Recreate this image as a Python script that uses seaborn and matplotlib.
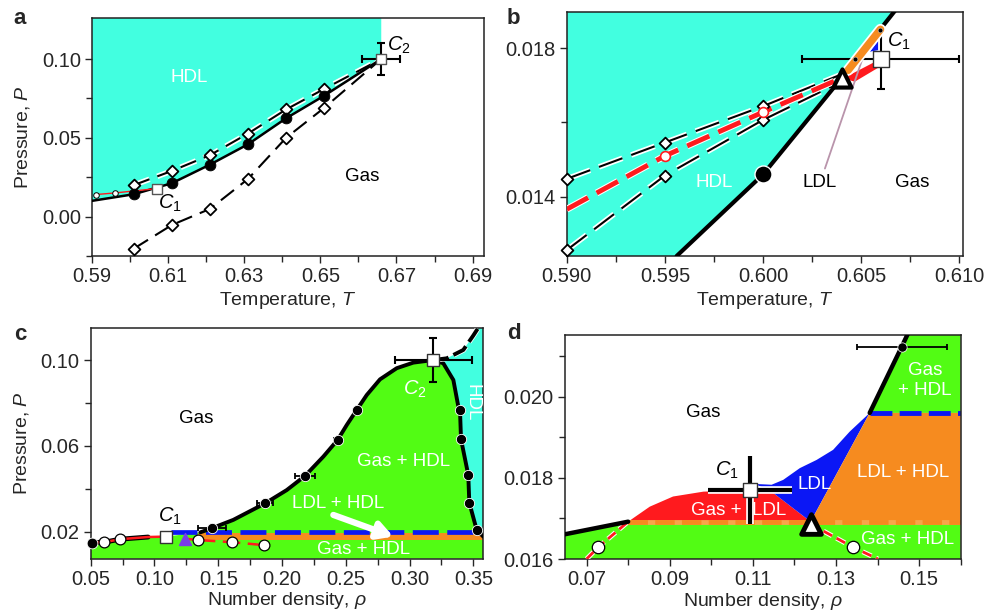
import matplotlib
matplotlib.use('Agg')
import matplotlib.pyplot as plt
import matplotlib.patheffects as pe
import seaborn as sns

sns.set_style('ticks')
plt.rcParams['font.family'] = ['Liberation Sans', 'DejaVu Sans']
plt.rcParams['mathtext.fontset'] = 'custom'
plt.rcParams['mathtext.rm'] = 'Liberation Sans'
plt.rcParams['mathtext.it'] = 'Liberation Sans:italic'
plt.rcParams['mathtext.bf'] = 'Liberation Sans:bold'
plt.rcParams['axes.linewidth'] = 1.1
plt.rcParams['axes.edgecolor'] = '#222222'

CYAN = '#42ffe0'
GREEN = '#52fc14'
RED = '#ff1a1e'
ORANGE = '#f68b1f'
ORANGE_LIGHT = '#f7a64a'
BLUE = '#0b17f5'
PURPLE = '#7a3de8'
FS = 13.5      # text inside the panels
TFS = 14.5     # tick labels
LFS = 14       # axis labels

# ---------------- panel a: P-T plane, full range ----------------
A_T_COEX = [0.590, 0.601, 0.611, 0.621, 0.631, 0.641, 0.651, 0.666]
A_P_COEX = [0.0100, 0.0142, 0.0212, 0.0330, 0.0459, 0.0624, 0.0767, 0.1000]
A_T_DIA = [0.601, 0.611, 0.621, 0.631, 0.641, 0.651, 0.666]
A_P_DIA_HI = [0.0200, 0.0290, 0.0390, 0.0527, 0.0680, 0.0810, 0.1000]
A_P_DIA_LO = [-0.0203, -0.0053, 0.0049, 0.0239, 0.0500, 0.0690, 0.1000]
A_T_LDL = [0.591, 0.596, 0.607]
A_P_LDL = [0.0140, 0.0150, 0.0178]
A_C2 = (0.666, 0.100)
A_C2_ERR = (0.005, 0.010)
A_XTICKS = [0.59, 0.61, 0.63, 0.65, 0.67, 0.69]
A_YTICKS = [0.00, 0.05, 0.10]

# ---------------- panel b: P-T plane, zoom near C1 ----------------
B_T_COEX = [0.5956, 0.600, 0.604, 0.6070]
B_P_COEX = [0.0124, 0.0146, 0.0172, 0.0192]
B_T_DIA = [0.590, 0.595, 0.600]
B_P_DIA_HI = [0.01448, 0.01546, 0.01644]
B_P_DIA_LO = [0.01256, 0.01457, 0.01607]
B_T_HI_END = 0.6040
B_P_HI_END = 0.0173
B_T_LO_END = 0.6036
B_P_LO_END = 0.0170
B_T_LDL = [0.590, 0.595, 0.600, 0.604]
B_P_LDL = [0.01366, 0.0151, 0.01628, 0.0172]
B_T_WEDGE = [0.60408, 0.60586, 0.60594, 0.60467]
B_P_WEDGE = [0.01719, 0.01768, 0.01750, 0.01710]
B_T_BLUE = [0.60544, 0.60586, 0.60586]
B_P_BLUE = [0.01791, 0.01820, 0.01795]
B_T_ORANGE = [0.60433, 0.60598]
B_P_ORANGE = [0.01741, 0.01851]
B_T_DOTS = [0.60467, 0.60594]
B_P_DOTS = [0.01770, 0.01849]
B_TRIPLE = (0.6040, 0.01719)
B_CIRCLE = (0.600, 0.0146)
B_C1 = (0.606, 0.0177)
B_C1_ERR = (0.004, 0.0008)
B_XTICKS = [0.590, 0.595, 0.600, 0.605, 0.610]
B_YTICKS = [0.014, 0.018]

# ---------------- panel c: P-rho plane ----------------
C_RHO_LEFT = [0.0508, 0.0607, 0.073, 0.095, 0.109]
C_P_LEFT = [0.0149, 0.0151, 0.0165, 0.0175, 0.0177]
C_RHO_OPEN = [0.0607, 0.073, 0.134, 0.161, 0.186]
C_P_OPEN = [0.0151, 0.0165, 0.0161, 0.0151, 0.0137]
C_RHO_VAP = [0.1242, 0.134, 0.161, 0.186]
C_P_VAP = [0.0167, 0.0161, 0.0151, 0.0137]
C_RHO_COEX = [0.136, 0.1449, 0.1618, 0.1867, 0.2037, 0.218, 0.2324, 0.2436,
              0.2507, 0.2585, 0.2664, 0.2768, 0.2899, 0.3029, 0.3186, 0.3264,
              0.3343, 0.3382, 0.3395, 0.3403, 0.3460, 0.3468, 0.3526, 0.3578]
C_P_COEX = [0.0197, 0.0216, 0.0255, 0.0332, 0.0394, 0.0460, 0.0550, 0.0628,
            0.0697, 0.0767, 0.0837, 0.0910, 0.0962, 0.0988, 0.1000, 0.0985,
            0.0907, 0.0783, 0.0767, 0.0631, 0.0464, 0.0335, 0.0208, 0.0177]
C_RHO_DOT = [0.1449, 0.1867, 0.218, 0.2436, 0.2585, 0.3395, 0.3403, 0.3460, 0.3468, 0.3526]
C_P_DOT = [0.0216, 0.0332, 0.0460, 0.0628, 0.0767, 0.0767, 0.0631, 0.0464, 0.0335, 0.0208]
C_RHO_DOT_ERR = [0.0108, 0.006, 0.008, 0.003, 0, 0, 0, 0, 0, 0]
C_RHO_HDL = [0.3186, 0.3291, 0.3421, 0.3500, 0.3560]
C_P_HDL = [0.1000, 0.1008, 0.1047, 0.1115, 0.1170]
C_P_BLUE = 0.0199
C_RHO_BLUE = [0.113, 0.352]
C_P_ORANGE = 0.0178
C_RHO_ORANGE = [0.136, 0.3578]
C_C1 = (0.109, 0.0177)
C_C2 = (0.3186, 0.100)
C_C2_ERR = (0.030, 0.0101)
C_TRIPLE = (0.1242, 0.0167)
C_ARROW = [(0.2402, 0.0278), (0.2872, 0.0177)]
C_XTICKS = [0.05, 0.10, 0.15, 0.20, 0.25, 0.30, 0.35]
C_YTICKS = [0.02, 0.06, 0.10]

# ---------------- panel d: P-rho plane, zoom near C1 ----------------
D_RHO_COEX_L = [0.0648, 0.080]
D_P_COEX_L = [0.01661, 0.01692]
D_RHO_COEX_R = [0.1381, 0.1458, 0.1475]
D_P_COEX_R = [0.0196, 0.02123, 0.0216]
D_RHO_GL = [0.080, 0.0852, 0.0908, 0.0981, 0.1093, 0.1145, 0.1239]
D_P_GL = [0.01692, 0.01729, 0.01754, 0.01766, 0.01770, 0.01766, 0.01692]
D_RHO_LDL = [0.1105, 0.1145, 0.1173, 0.1213, 0.1253, 0.1293, 0.1333, 0.1381]
D_P_LDL = [0.01785, 0.01783, 0.01795, 0.01824, 0.01844, 0.01869, 0.01914, 0.0196]
D_P_TRIPLE_LINE = 0.01692
D_P_UPPER_LINE = 0.0196
D_RHO_SP1 = [0.070, 0.0728, 0.080]
D_P_SP1 = [0.0160, 0.01629, 0.01692]
D_RHO_SP2 = [0.1239, 0.1341, 0.1401]
D_P_SP2 = [0.01686, 0.01629, 0.0160]
D_RHO_OPEN = [0.0728, 0.1341]
D_P_OPEN = [0.01629, 0.01629]
D_C1 = (0.1093, 0.0177)
D_C1_ERR = (0.010, 0.00083)
D_TRIPLE = (0.1239, 0.01686)
D_TOPDOT = (0.1458, 0.02123)
D_TOPDOT_ERR = 0.0108
D_XTICKS = [0.07, 0.09, 0.11, 0.13, 0.15]
D_YTICKS = [0.016, 0.018, 0.020]


def halo(w):
    return [pe.Stroke(linewidth=w, foreground='white'), pe.Normal()]


def line(ax, x, y, **kw):
    sns.lineplot(x=list(x), y=list(y), ax=ax, sort=False, estimator=None,
                 legend=False, **kw)


def pts(ax, x, y, **kw):
    sns.scatterplot(x=list(x), y=list(y), ax=ax, legend=False, **kw)


def style_axes(ax, xlim, ylim, xt, xminor, yt, yminor, xfmt, yfmt):
    ax.set_xlim(*xlim)
    ax.set_ylim(*ylim)
    ax.set_xticks(xt)
    ax.set_xticklabels([xfmt.format(v) for v in xt])
    ax.set_xticks(xminor, minor=True)
    ax.set_yticks(yt)
    ax.set_yticklabels([yfmt.format(v) for v in yt])
    ax.set_yticks(yminor, minor=True)
    ax.tick_params(which='both', direction='out', labelsize=TFS, width=1.0,
                   top=False, right=False, pad=3)
    ax.tick_params(which='major', length=5)
    ax.tick_params(which='minor', length=4)
    for s in ax.spines.values():
        s.set_visible(True)


fig = plt.figure(figsize=(9.87, 6.11), dpi=100)
ax_a = fig.add_axes([0.0932, 0.581, 0.3972, 0.3895])
ax_b = fig.add_axes([0.5742, 0.581, 0.4018, 0.400])
ax_c = fig.add_axes([0.0919, 0.0856, 0.3978, 0.3771])
ax_d = fig.add_axes([0.5724, 0.0851, 0.4010, 0.3666])

# ===== a =====
ax = ax_a
A_TOP = 0.126
ax.fill(A_T_COEX + [A_T_COEX[-1], A_T_COEX[0]], A_P_COEX + [A_TOP, A_TOP],
        color=CYAN, lw=0, zorder=0)
for pdia in (A_P_DIA_HI, A_P_DIA_LO):
    line(ax, A_T_DIA, pdia, color='k', lw=1.5, linestyle=(0, (8, 4)),
         path_effects=halo(4), zorder=2)
    pts(ax, A_T_DIA[:-1], pdia[:-1], marker='D', s=36, color='white',
        edgecolor='k', linewidth=1.3, zorder=4)
line(ax, A_T_COEX, A_P_COEX, color='k', lw=1.8, zorder=3)
pts(ax, A_T_COEX[1:-1], A_P_COEX[1:-1], marker='o', s=60, color='k',
    edgecolor='k', zorder=4)
line(ax, A_T_LDL, A_P_LDL, color=RED, lw=1.0, zorder=3)
pts(ax, A_T_LDL[:-1], A_P_LDL[:-1], marker='o', s=16, color='white',
    edgecolor='k', linewidth=0.7, zorder=4)
ax.errorbar(A_C2[0], A_C2[1], xerr=A_C2_ERR[0], yerr=A_C2_ERR[1], fmt='none',
            ecolor='k', elinewidth=1.5, capsize=3, capthick=1.5, zorder=5)
pts(ax, [A_T_LDL[-1], A_C2[0]], [A_P_LDL[-1], A_C2[1]], marker='s', s=60,
    color='white', edgecolor='#555555', linewidth=1.0, zorder=6)
ax.text(0.6155, 0.0884, 'HDL', color='white', fontsize=FS, ha='center', va='center')
ax.text(0.6611, 0.0254, 'Gas', color='k', fontsize=FS, ha='center', va='center')
ax.text(0.6105, 0.0085, '$C_1$', color='k', fontsize=FS + 1, ha='center', va='center')
ax.text(0.6705, 0.1087, '$C_2$', color='k', fontsize=FS + 1, ha='center', va='center')
style_axes(ax, (0.59, 0.693), (-0.025, A_TOP), A_XTICKS,
           [0.60, 0.62, 0.64, 0.66, 0.68], A_YTICKS, [-0.025, 0.025, 0.075],
           '{:.2f}', '{:.2f}')
ax.set_xlabel('Temperature, $T$', fontsize=LFS, labelpad=3)
ax.set_ylabel('Pressure, $P$', fontsize=LFS, labelpad=7)

# ===== b =====
ax = ax_b
B_TOP = 0.01899
B_BOT = 0.0124
ax.fill([0.590] + B_T_COEX + [0.590], [B_BOT] + B_P_COEX + [B_TOP],
        color=CYAN, lw=0, zorder=0)
ax.fill(B_T_WEDGE, B_P_WEDGE, color=RED, lw=0, zorder=3)
ax.fill(B_T_BLUE, B_P_BLUE, color=BLUE, lw=0, zorder=3)
line(ax, B_T_DIA + [B_T_HI_END], B_P_DIA_HI + [B_P_HI_END], color='k', lw=1.5,
     linestyle=(0, (12, 4.5)), path_effects=halo(4), zorder=2)
line(ax, B_T_DIA + [B_T_LO_END], B_P_DIA_LO + [B_P_LO_END], color='k', lw=1.5,
     linestyle=(0, (12, 4.5)), path_effects=halo(4), zorder=2)
line(ax, B_T_LDL, B_P_LDL, color=RED, lw=3.5, linestyle=(0, (5, 2)),
     path_effects=halo(5), zorder=3)
line(ax, B_T_COEX, B_P_COEX, color='k', lw=3.0, zorder=3)
for pdia in (B_P_DIA_HI, B_P_DIA_LO):
    pts(ax, B_T_DIA, pdia, marker='D', s=36, color='white', edgecolor='k',
        linewidth=1.3, zorder=4, clip_on=False)
pts(ax, B_T_LDL[1:3], B_P_LDL[1:3], marker='o', s=50, color='white',
    edgecolor=RED, linewidth=1.2, zorder=4)
pts(ax, [B_CIRCLE[0]], [B_CIRCLE[1]], marker='o', s=150, color='k', zorder=4)
ax.errorbar(B_C1[0], B_C1[1], xerr=B_C1_ERR[0], yerr=B_C1_ERR[1], fmt='none',
            ecolor='k', elinewidth=1.5, capsize=3, capthick=1.5, zorder=5)
line(ax, B_T_ORANGE, B_P_ORANGE, color=ORANGE, lw=5.5, solid_capstyle='round',
     path_effects=halo(8), zorder=6)
pts(ax, B_T_DOTS, B_P_DOTS, marker='o', s=12, color='k', zorder=7)
pts(ax, [B_TRIPLE[0]], [B_TRIPLE[1]], marker='^', s=170, color='white',
    edgecolor='k', linewidth=3, zorder=7)
pts(ax, [B_C1[0]], [B_C1[1]], marker='s', s=120, color='white',
    edgecolor='#333333', linewidth=1.0, zorder=8)
ax.text(0.5975, 0.01437, 'HDL', color='white', fontsize=FS, ha='center', va='center')
ax.text(0.6076, 0.01437, 'Gas', color='k', fontsize=FS, ha='center', va='center')
ax.annotate('LDL', xy=(0.60527, 0.01804), xytext=(0.6029, 0.01437),
            fontsize=FS, ha='center', va='center', color='k',
            arrowprops=dict(arrowstyle='-', color='#b994ab', lw=1.3,
                            shrinkA=2, shrinkB=0))
ax.text(0.6069, 0.01818, '$C_1$', color='k', fontsize=FS + 1, ha='center', va='center')
style_axes(ax, (0.590, 0.6102), (B_BOT, B_TOP), B_XTICKS,
           [0.5925, 0.5975, 0.6025, 0.6075], B_YTICKS, [0.016],
           '{:.3f}', '{:.3f}')
ax.set_xlabel('Temperature, $T$', fontsize=LFS, labelpad=3)

# ===== c =====
ax = ax_c
C_TOP = 0.1148
C_BOT = 0.0074
C_RIGHT = 0.3578
green_x = C_RHO_LEFT + C_RHO_COEX + [C_RIGHT, C_RHO_LEFT[0] - 0.001]
green_y = C_P_LEFT + C_P_COEX + [C_BOT, C_BOT]
ax.fill([C_RHO_LEFT[0] - 0.001] + green_x, [C_P_LEFT[0]] + green_y,
        color=GREEN, lw=0, zorder=0)
i2 = C_RHO_COEX.index(C_C2[0])
cyan_x = C_RHO_HDL + [C_RIGHT, C_RIGHT] + C_RHO_COEX[i2:][::-1]
cyan_y = C_P_HDL + [C_TOP, C_P_COEX[-1]] + C_P_COEX[i2:][::-1]
ax.fill(cyan_x, cyan_y, color=CYAN, lw=0, zorder=0)
line(ax, C_RHO_ORANGE, [C_P_ORANGE] * 2, color=ORANGE, lw=5, zorder=2)
line(ax, C_RHO_BLUE, [C_P_BLUE] * 2, color=BLUE, lw=3.4,
     linestyle=(0, (5.5, 1.8)), zorder=2)
line(ax, C_RHO_LEFT[:4], C_P_LEFT[:4], color='k', lw=3.5, zorder=3)
line(ax, C_RHO_LEFT, C_P_LEFT, color=RED, lw=1.8, zorder=3)
line(ax, C_RHO_VAP[:2], C_P_VAP[:2], color=RED, lw=1.8, zorder=3)
line(ax, C_RHO_VAP[1:], C_P_VAP[1:], color=RED, lw=1.8,
     linestyle=(0, (7, 3)), zorder=3)
line(ax, C_RHO_COEX, C_P_COEX, color='k', lw=2.8, zorder=3)
line(ax, C_RHO_HDL, C_P_HDL, color='k', lw=2.8, linestyle=(0, (4, 1.4)),
     path_effects=halo(4), zorder=3)
ax.errorbar(C_RHO_DOT, C_P_DOT, xerr=C_RHO_DOT_ERR, fmt='none', ecolor='k',
            elinewidth=1.3, capsize=2.5, capthick=1.3, zorder=4)
pts(ax, C_RHO_DOT, C_P_DOT, marker='o', s=55, color='k', zorder=4)
pts(ax, [C_RHO_LEFT[0]], [C_P_LEFT[0]], marker='o', s=60, color='k', zorder=4,
    clip_on=False)
pts(ax, C_RHO_OPEN, C_P_OPEN, marker='o', s=60, color='white', edgecolor='k',
    linewidth=0.9, zorder=5)
ax.errorbar(C_C2[0], C_C2[1], xerr=C_C2_ERR[0], yerr=C_C2_ERR[1], fmt='none',
            ecolor='k', elinewidth=1.5, capsize=3, capthick=1.5, zorder=5)
pts(ax, [C_C1[0], C_C2[0]], [C_C1[1], C_C2[1]], marker='s', s=65,
    color='white', edgecolor='#333333', linewidth=1.0, zorder=6)
pts(ax, [C_TRIPLE[0]], [C_TRIPLE[1]], marker='^', s=75, color=PURPLE,
    edgecolor=PURPLE, linewidth=1, zorder=6)
ax.annotate('', xy=C_ARROW[1], xytext=C_ARROW[0],
            arrowprops=dict(arrowstyle='-|>,head_length=0.9,head_width=0.5',
                            color='white', lw=4.5, shrinkA=0, shrinkB=0), zorder=5)
ax.text(0.133, 0.0729, 'Gas', color='k', fontsize=FS, ha='center', va='center')
ax.text(0.295, 0.0527, 'Gas + HDL', color='white', fontsize=FS, ha='center', va='center')
ax.text(0.244, 0.0331, 'LDL + HDL', color='white', fontsize=FS, ha='center', va='center')
ax.text(0.2637, 0.0115, 'Gas + HDL', color='white', fontsize=FS, ha='center', va='center')
ax.text(0.304, 0.0863, '$C_2$', color='white', fontsize=FS + 1, ha='center', va='center')
ax.text(0.3487, 0.0803, 'HDL', color='white', fontsize=FS, ha='center', va='center',
        rotation=-90)
ax.text(0.112, 0.0270, '$C_1$', color='k', fontsize=FS + 1, ha='center', va='center')
style_axes(ax, (0.05, C_RIGHT), (C_BOT, C_TOP), C_XTICKS,
           [0.075, 0.125, 0.175, 0.225, 0.275, 0.325], C_YTICKS, [0.04, 0.08],
           '{:.2f}', '{:.2f}')
ax.set_xlabel('Number density, $\\rho$', fontsize=LFS, labelpad=1)
ax.set_ylabel('Pressure, $P$', fontsize=LFS, labelpad=7)

# ===== d =====
ax = ax_d
D_LEFT, D_RIGHT = 0.0648, 0.16
D_BOT, D_TOP = 0.016, 0.02152
ax.fill(D_RHO_COEX_L + [D_RIGHT, D_RIGHT, D_LEFT],
        D_P_COEX_L + [D_P_TRIPLE_LINE, D_BOT, D_BOT], color=GREEN, lw=0, zorder=0)
ax.fill(D_RHO_COEX_R + [D_RIGHT, D_RIGHT],
        D_P_COEX_R + [D_TOP, D_P_UPPER_LINE], color=GREEN, lw=0, zorder=0)
ax.fill(D_RHO_GL, D_P_GL, color=RED, lw=0, zorder=0)
ax.fill(D_RHO_LDL + [D_TRIPLE[0], D_RHO_GL[-2]],
        D_P_LDL + [D_P_TRIPLE_LINE, D_P_GL[-2]], color=BLUE, lw=0, zorder=0)
ax.fill([D_TRIPLE[0], D_RHO_LDL[-1], D_RIGHT, D_RIGHT],
        [D_P_TRIPLE_LINE, D_P_UPPER_LINE, D_P_UPPER_LINE, D_P_TRIPLE_LINE],
        color=ORANGE, lw=0, zorder=0)
line(ax, [D_RHO_COEX_L[-1], D_RIGHT], [D_P_TRIPLE_LINE] * 2, color=ORANGE_LIGHT,
     lw=3.5, zorder=2)
line(ax, [D_RHO_COEX_L[-1], D_RIGHT], [D_P_TRIPLE_LINE] * 2, color=ORANGE,
     lw=3.5, linestyle=(0, (4, 1.5)), zorder=2)
line(ax, [D_RHO_LDL[-1], D_RIGHT], [D_P_UPPER_LINE] * 2, color=BLUE, lw=3.5,
     linestyle=(0, (4.5, 1.5)), zorder=2)
line(ax, D_RHO_SP1, D_P_SP1, color=RED, lw=2, linestyle=(0, (3.5, 1.8)),
     path_effects=halo(3.5), zorder=3)
line(ax, D_RHO_SP2, D_P_SP2, color=RED, lw=2, linestyle=(0, (3.5, 1.8)),
     path_effects=halo(3.5), zorder=3)
line(ax, D_RHO_COEX_L, D_P_COEX_L, color='k', lw=3.2, zorder=3)
line(ax, D_RHO_COEX_R, D_P_COEX_R, color='k', lw=3.2, zorder=3)
pts(ax, D_RHO_OPEN, D_P_OPEN, marker='o', s=80, color='white', edgecolor='k',
    linewidth=0.9, zorder=5)
ax.errorbar(D_TOPDOT[0], D_TOPDOT[1], xerr=D_TOPDOT_ERR, fmt='none', ecolor='k',
            elinewidth=1.3, capsize=2.5, capthick=1.3, zorder=4)
pts(ax, [D_TOPDOT[0]], [D_TOPDOT[1]], marker='o', s=45, color='k', zorder=4)
eb = ax.errorbar(D_C1[0], D_C1[1], xerr=D_C1_ERR[0], yerr=D_C1_ERR[1], fmt='none',
                 ecolor='k', elinewidth=3, capsize=0, zorder=5)
for coll in eb[2]:
    coll.set_path_effects(halo(5.5))
pts(ax, [D_C1[0]], [D_C1[1]], marker='s', s=100, color='white',
    edgecolor='#333333', linewidth=1.0, zorder=6)
pts(ax, [D_TRIPLE[0]], [D_TRIPLE[1]], marker='^', s=200, color='white',
    edgecolor='k', linewidth=3.5, zorder=6)
ax.text(0.0981, 0.0196, 'Gas', color='k', fontsize=FS, ha='center', va='center')
ax.text(0.1037, 0.01818, '$C_1$', color='k', fontsize=FS + 1, ha='center', va='center')
ax.text(0.1249, 0.01784, 'LDL', color='white', fontsize=FS, ha='center', va='center')
ax.text(0.1065, 0.01719, 'Gas +  LDL', color='white', fontsize=FS, ha='center',
        va='center')
ax.text(0.1462, 0.01813, 'LDL + HDL', color='white', fontsize=FS, ha='center', va='center')
ax.text(0.1514, 0.0204, 'Gas\n+ HDL', color='white', fontsize=FS, ha='center',
        va='center', linespacing=1.2)
ax.text(0.1473, 0.01647, 'Gas + HDL', color='white', fontsize=FS, ha='center', va='center')
style_axes(ax, (D_LEFT, D_RIGHT), (D_BOT, D_TOP), D_XTICKS,
           [0.08, 0.10, 0.12, 0.14, 0.16], D_YTICKS, [0.017, 0.019, 0.021],
           '{:.2f}', '{:.3f}')
ax.set_xlabel('Number density, $\\rho$', fontsize=LFS, labelpad=1)

for lab, x, y in (('a', 0.020, 0.970), ('b', 0.520, 0.970),
                  ('c', 0.021, 0.453), ('d', 0.521, 0.4545)):
    fig.text(x, y, lab, fontsize=16, fontweight='bold', ha='center', va='center')

fig.savefig('out.png', dpi=100)
